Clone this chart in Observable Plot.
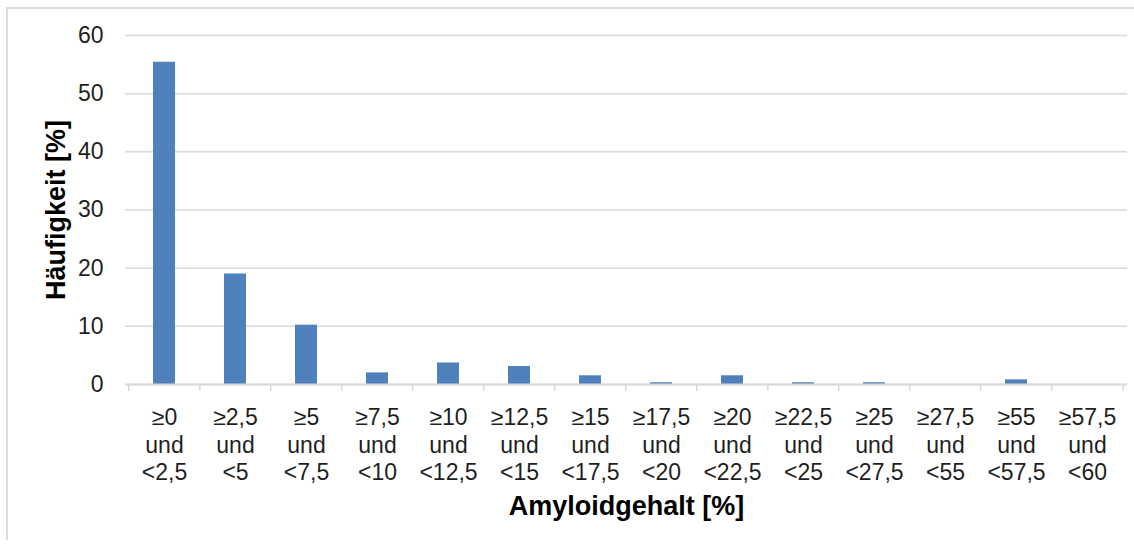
<!DOCTYPE html>
<html>
<head>
<meta charset="utf-8">
<script src="https://cdn.jsdelivr.net/npm/d3@7"></script>
<script src="https://cdn.jsdelivr.net/npm/@observablehq/plot@0.6"></script>
<style>
  html, body { margin: 0; padding: 0; background: #fff; overflow: hidden; }
  #wrap { position: relative; width: 1134px; height: 545px; overflow: hidden; }
  #border { position: absolute; left: 6px; top: 7px; width: 1140px; height: 533px; border: 2px solid #dcdcdc; border-bottom: none; box-sizing: border-box; pointer-events: none; }
</style>
</head>
<body>
<div id="wrap"><div id="border"></div></div>
<script>
const lowerBounds = ["0", "2,5", "5", "7,5", "10", "12,5", "15", "17,5", "20", "22,5", "25", "27,5", "55", "57,5"];
const upperBounds = ["2,5", "5", "7,5", "10", "12,5", "15", "17,5", "20", "22,5", "25", "27,5", "55", "57,5", "60"];
const frequencies = [55.4, 19.0, 10.2, 2.0, 3.7, 3.1, 1.5, 0.3, 1.5, 0.3, 0.3, 0, 0.8, 0];
const yTicks = [0, 10, 20, 30, 40, 50, 60];
const yTitle = "Häufigkeit [%]";
const xTitle = "Amyloidgehalt [%]";

const categories = lowerBounds.map((lo, i) => `≥${lo}\nund\n<${upperBounds[i]}`);
const data = categories.map((c, i) => ({category: c, value: frequencies[i]}));

const W = 1134, H = 545, mL = 125, mR = 7, mT = 35, mB = 161;
const step = (W - mL - mR) / categories.length;
const gray = "#d9d9d9";

const chart = Plot.plot({
  width: W,
  height: H,
  marginLeft: mL,
  marginRight: mR,
  marginTop: mT,
  marginBottom: mB,
  style: {fontFamily: "'Liberation Sans', Arial, sans-serif", fontSize: "23px", background: "transparent", color: "#1f1f1f"},
  x: {domain: categories, paddingInner: 0.69, paddingOuter: 0.345, align: 0.5},
  y: {domain: [0, 60]},
  marks: [
    Plot.gridY(yTicks, {stroke: gray, strokeOpacity: 1, strokeWidth: 1.5}),
    Plot.barY(data, {x: "category", y: "value", fill: "#4f81bd"}),
    Plot.ruleY([0], {stroke: gray, strokeWidth: 2}),
    Plot.ruleX(categories, {x: d => d, y1: 0, y2: 0, insetBottom: -7, dx: -step / 2, stroke: gray, strokeWidth: 1.5}),
    Plot.ruleX([categories[categories.length - 1]], {x: d => d, y1: 0, y2: 0, insetBottom: -7, dx: step / 2, stroke: gray, strokeWidth: 1.5}),
    Plot.axisY({ticks: yTicks, tickSize: 0, tickPadding: 22, label: null}),
    Plot.axisX({tickSize: 0, tickPadding: 21, lineHeight: 1.2, label: null}),
    Plot.text([yTitle], {frameAnchor: "left", textAnchor: "middle", lineAnchor: "middle", dx: -69, rotate: -90, fontSize: 27, fontWeight: "bold", fill: "#000"}),
    Plot.text([xTitle], {frameAnchor: "bottom", textAnchor: "middle", lineAnchor: "middle", dy: 122, fontSize: 27, fontWeight: "bold", fill: "#000"})
  ]
});
document.getElementById("wrap").appendChild(chart);
</script>
</body>
</html>
